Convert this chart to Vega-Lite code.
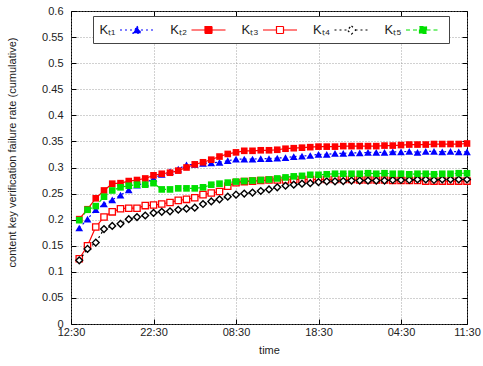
{
  "$schema": "https://vega.github.io/schema/vega-lite/v6.json",
  "width": 396,
  "height": 313,
  "autosize": "none",
  "padding": {"left": 71, "top": 11, "right": 16, "bottom": 42},
  "background": "white",
  "config": {
    "font": "Liberation Sans",
    "view": {"stroke": "#000000", "strokeWidth": 1},
    "axis": {"domain": false, "labelFont": "Liberation Sans", "titleFont": "Liberation Sans", "labelColor": "#222222", "titleColor": "#222222", "titleFontWeight": "normal", "labelFontSize": 11, "titleFontSize": 11, "tickColor": "#000000", "tickSize": -5, "tickWidth": 1}
  },
  "data": {"values": [
    {"s":"KT1","h":1,"v":0.184},{"s":"KT1","h":2,"v":0.201},{"s":"KT1","h":3,"v":0.219},{"s":"KT1","h":4,"v":0.230},{"s":"KT1","h":5,"v":0.238},{"s":"KT1","h":6,"v":0.247},{"s":"KT1","h":7,"v":0.257},{"s":"KT1","h":8,"v":0.266},{"s":"KT1","h":9,"v":0.270},{"s":"KT1","h":10,"v":0.279},
    {"s":"KT1","h":11,"v":0.287},{"s":"KT1","h":12,"v":0.292},{"s":"KT1","h":13,"v":0.297},{"s":"KT1","h":14,"v":0.305},{"s":"KT1","h":15,"v":0.306},{"s":"KT1","h":16,"v":0.308},{"s":"KT1","h":17,"v":0.309},{"s":"KT1","h":18,"v":0.310},{"s":"KT1","h":19,"v":0.313},{"s":"KT1","h":20,"v":0.316},
    {"s":"KT1","h":21,"v":0.316},{"s":"KT1","h":22,"v":0.316},{"s":"KT1","h":23,"v":0.317},{"s":"KT1","h":24,"v":0.317},{"s":"KT1","h":25,"v":0.318},{"s":"KT1","h":26,"v":0.319},{"s":"KT1","h":27,"v":0.321},{"s":"KT1","h":28,"v":0.322},{"s":"KT1","h":29,"v":0.323},{"s":"KT1","h":30,"v":0.325},
    {"s":"KT1","h":31,"v":0.325},{"s":"KT1","h":32,"v":0.327},{"s":"KT1","h":33,"v":0.327},{"s":"KT1","h":34,"v":0.328},{"s":"KT1","h":35,"v":0.328},{"s":"KT1","h":36,"v":0.329},{"s":"KT1","h":37,"v":0.329},{"s":"KT1","h":38,"v":0.329},{"s":"KT1","h":39,"v":0.330},{"s":"KT1","h":40,"v":0.330},
    {"s":"KT1","h":41,"v":0.331},{"s":"KT1","h":42,"v":0.329},{"s":"KT1","h":43,"v":0.331},{"s":"KT1","h":44,"v":0.331},{"s":"KT1","h":45,"v":0.330},{"s":"KT1","h":46,"v":0.331},{"s":"KT1","h":47,"v":0.330},{"s":"KT1","h":48,"v":0.330},

    {"s":"KT2","h":1,"v":0.201},{"s":"KT2","h":2,"v":0.220},{"s":"KT2","h":3,"v":0.241},{"s":"KT2","h":4,"v":0.256},{"s":"KT2","h":5,"v":0.269},{"s":"KT2","h":6,"v":0.270},{"s":"KT2","h":7,"v":0.274},{"s":"KT2","h":8,"v":0.276},{"s":"KT2","h":9,"v":0.279},{"s":"KT2","h":10,"v":0.285},
    {"s":"KT2","h":11,"v":0.288},{"s":"KT2","h":12,"v":0.290},{"s":"KT2","h":13,"v":0.294},{"s":"KT2","h":14,"v":0.300},{"s":"KT2","h":15,"v":0.306},{"s":"KT2","h":16,"v":0.310},{"s":"KT2","h":17,"v":0.315},{"s":"KT2","h":18,"v":0.321},{"s":"KT2","h":19,"v":0.326},{"s":"KT2","h":20,"v":0.329},
    {"s":"KT2","h":21,"v":0.332},{"s":"KT2","h":22,"v":0.332},{"s":"KT2","h":23,"v":0.333},{"s":"KT2","h":24,"v":0.333},{"s":"KT2","h":25,"v":0.334},{"s":"KT2","h":26,"v":0.336},{"s":"KT2","h":27,"v":0.337},{"s":"KT2","h":28,"v":0.338},{"s":"KT2","h":29,"v":0.339},{"s":"KT2","h":30,"v":0.340},
    {"s":"KT2","h":31,"v":0.340},{"s":"KT2","h":32,"v":0.340},{"s":"KT2","h":33,"v":0.341},{"s":"KT2","h":34,"v":0.341},{"s":"KT2","h":35,"v":0.341},{"s":"KT2","h":36,"v":0.341},{"s":"KT2","h":37,"v":0.341},{"s":"KT2","h":38,"v":0.342},{"s":"KT2","h":39,"v":0.342},{"s":"KT2","h":40,"v":0.343},
    {"s":"KT2","h":41,"v":0.344},{"s":"KT2","h":42,"v":0.344},{"s":"KT2","h":43,"v":0.344},{"s":"KT2","h":44,"v":0.345},{"s":"KT2","h":45,"v":0.345},{"s":"KT2","h":46,"v":0.345},{"s":"KT2","h":47,"v":0.345},{"s":"KT2","h":48,"v":0.346},

    {"s":"KT3","h":1,"v":0.125},{"s":"KT3","h":2,"v":0.150},{"s":"KT3","h":3,"v":0.186},{"s":"KT3","h":4,"v":0.205},{"s":"KT3","h":5,"v":0.215},{"s":"KT3","h":6,"v":0.221},{"s":"KT3","h":7,"v":0.222},{"s":"KT3","h":8,"v":0.222},{"s":"KT3","h":9,"v":0.227},{"s":"KT3","h":10,"v":0.228},
    {"s":"KT3","h":11,"v":0.230},{"s":"KT3","h":12,"v":0.233},{"s":"KT3","h":13,"v":0.237},{"s":"KT3","h":14,"v":0.239},{"s":"KT3","h":15,"v":0.242},{"s":"KT3","h":16,"v":0.248},{"s":"KT3","h":17,"v":0.251},{"s":"KT3","h":18,"v":0.254},{"s":"KT3","h":19,"v":0.264},{"s":"KT3","h":20,"v":0.271},
    {"s":"KT3","h":21,"v":0.273},{"s":"KT3","h":22,"v":0.274},{"s":"KT3","h":23,"v":0.275},{"s":"KT3","h":24,"v":0.276},{"s":"KT3","h":25,"v":0.276},{"s":"KT3","h":26,"v":0.276},{"s":"KT3","h":27,"v":0.277},{"s":"KT3","h":28,"v":0.277},{"s":"KT3","h":29,"v":0.277},{"s":"KT3","h":30,"v":0.277},
    {"s":"KT3","h":31,"v":0.277},{"s":"KT3","h":32,"v":0.277},{"s":"KT3","h":33,"v":0.277},{"s":"KT3","h":34,"v":0.277},{"s":"KT3","h":35,"v":0.276},{"s":"KT3","h":36,"v":0.276},{"s":"KT3","h":37,"v":0.276},{"s":"KT3","h":38,"v":0.276},{"s":"KT3","h":39,"v":0.275},{"s":"KT3","h":40,"v":0.275},
    {"s":"KT3","h":41,"v":0.275},{"s":"KT3","h":42,"v":0.275},{"s":"KT3","h":43,"v":0.274},{"s":"KT3","h":44,"v":0.274},{"s":"KT3","h":45,"v":0.274},{"s":"KT3","h":46,"v":0.274},{"s":"KT3","h":47,"v":0.274},{"s":"KT3","h":48,"v":0.274},

    {"s":"KT4","h":1,"v":0.122},{"s":"KT4","h":2,"v":0.144},{"s":"KT4","h":3,"v":0.156},{"s":"KT4","h":4,"v":0.182},{"s":"KT4","h":5,"v":0.188},{"s":"KT4","h":6,"v":0.192},{"s":"KT4","h":7,"v":0.201},{"s":"KT4","h":8,"v":0.205},{"s":"KT4","h":9,"v":0.208},{"s":"KT4","h":10,"v":0.213},
    {"s":"KT4","h":11,"v":0.215},{"s":"KT4","h":12,"v":0.216},{"s":"KT4","h":13,"v":0.219},{"s":"KT4","h":14,"v":0.221},{"s":"KT4","h":15,"v":0.223},{"s":"KT4","h":16,"v":0.230},{"s":"KT4","h":17,"v":0.235},{"s":"KT4","h":18,"v":0.239},{"s":"KT4","h":19,"v":0.244},{"s":"KT4","h":20,"v":0.248},
    {"s":"KT4","h":21,"v":0.250},{"s":"KT4","h":22,"v":0.252},{"s":"KT4","h":23,"v":0.255},{"s":"KT4","h":24,"v":0.258},{"s":"KT4","h":25,"v":0.262},{"s":"KT4","h":26,"v":0.265},{"s":"KT4","h":27,"v":0.267},{"s":"KT4","h":28,"v":0.269},{"s":"KT4","h":29,"v":0.270},{"s":"KT4","h":30,"v":0.272},
    {"s":"KT4","h":31,"v":0.2735},{"s":"KT4","h":32,"v":0.2735},{"s":"KT4","h":33,"v":0.274},{"s":"KT4","h":34,"v":0.275},{"s":"KT4","h":35,"v":0.275},{"s":"KT4","h":36,"v":0.275},{"s":"KT4","h":37,"v":0.275},{"s":"KT4","h":38,"v":0.275},{"s":"KT4","h":39,"v":0.276},{"s":"KT4","h":40,"v":0.276},
    {"s":"KT4","h":41,"v":0.276},{"s":"KT4","h":42,"v":0.277},{"s":"KT4","h":43,"v":0.277},{"s":"KT4","h":44,"v":0.276},{"s":"KT4","h":45,"v":0.277},{"s":"KT4","h":46,"v":0.277},{"s":"KT4","h":47,"v":0.277},{"s":"KT4","h":48,"v":0.277},

    {"s":"KT5","h":1,"v":0.199},{"s":"KT5","h":2,"v":0.219},{"s":"KT5","h":3,"v":0.226},{"s":"KT5","h":4,"v":0.244},{"s":"KT5","h":5,"v":0.256},{"s":"KT5","h":6,"v":0.262},{"s":"KT5","h":7,"v":0.265},{"s":"KT5","h":8,"v":0.267},{"s":"KT5","h":9,"v":0.267},{"s":"KT5","h":10,"v":0.270},
    {"s":"KT5","h":11,"v":0.258},{"s":"KT5","h":12,"v":0.258},{"s":"KT5","h":13,"v":0.260},{"s":"KT5","h":14,"v":0.260},{"s":"KT5","h":15,"v":0.260},{"s":"KT5","h":16,"v":0.262},{"s":"KT5","h":17,"v":0.267},{"s":"KT5","h":18,"v":0.269},{"s":"KT5","h":19,"v":0.271},{"s":"KT5","h":20,"v":0.273},
    {"s":"KT5","h":21,"v":0.274},{"s":"KT5","h":22,"v":0.275},{"s":"KT5","h":23,"v":0.276},{"s":"KT5","h":24,"v":0.277},{"s":"KT5","h":25,"v":0.279},{"s":"KT5","h":26,"v":0.281},{"s":"KT5","h":27,"v":0.283},{"s":"KT5","h":28,"v":0.284},{"s":"KT5","h":29,"v":0.286},{"s":"KT5","h":30,"v":0.286},
    {"s":"KT5","h":31,"v":0.287},{"s":"KT5","h":32,"v":0.288},{"s":"KT5","h":33,"v":0.288},{"s":"KT5","h":34,"v":0.288},{"s":"KT5","h":35,"v":0.288},{"s":"KT5","h":36,"v":0.289},{"s":"KT5","h":37,"v":0.288},{"s":"KT5","h":38,"v":0.289},{"s":"KT5","h":39,"v":0.288},{"s":"KT5","h":40,"v":0.288},
    {"s":"KT5","h":41,"v":0.287},{"s":"KT5","h":42,"v":0.288},{"s":"KT5","h":43,"v":0.288},{"s":"KT5","h":44,"v":0.287},{"s":"KT5","h":45,"v":0.288},{"s":"KT5","h":46,"v":0.288},{"s":"KT5","h":47,"v":0.289},{"s":"KT5","h":48,"v":0.289}
  ]},
  "layer": [
    {
      "mark": {"type": "point", "opacity": 0},
      "encoding": {
        "x": {"field": "h", "type": "quantitative", "scale": {"domain": [0, 48], "nice": false, "zero": false},
          "axis": {"orient": "bottom", "values": [0, 10, 20, 30, 40, 48], "labelExpr": "datum.value == 0 ? '12:30' : datum.value == 10 ? '22:30' : datum.value == 20 ? '08:30' : datum.value == 30 ? '18:30' : datum.value == 40 ? '04:30' : '11:30'",
            "title": "time", "titleY": 26, "titleBaseline": "middle", "labelPadding": 7, "labelFlush": false,
            "grid": true, "gridDash": [1, 2], "gridColor": "#8c8c8c", "gridWidth": 0.8}},
        "y": {"field": "v", "type": "quantitative", "scale": {"domain": [0, 0.6], "nice": false},
          "axis": {"orient": "left", "values": [0, 0.05, 0.1, 0.15, 0.2, 0.25, 0.3, 0.35, 0.4, 0.45, 0.5, 0.55, 0.6], "format": "~g",
            "title": "content key verification failure rate (cumulative)", "titleX": -59, "titleY": 141, "titleAngle": -90, "titleAlign": "center", "titleBaseline": "middle",
            "labelPadding": 13, "labelFlush": false,
            "grid": true, "gridDash": [1, 2], "gridColor": "#8c8c8c", "gridWidth": 0.8}}
      }
    },
    {
      "mark": {"type": "point", "opacity": 0},
      "encoding": {
        "x": {"field": "h", "type": "quantitative", "axis": {"orient": "top", "values": [0, 10, 20, 30, 40, 48], "labels": false, "title": null, "grid": false}},
        "y": {"field": "v", "type": "quantitative", "axis": {"orient": "right", "values": [0, 0.05, 0.1, 0.15, 0.2, 0.25, 0.3, 0.35, 0.4, 0.45, 0.5, 0.55, 0.6], "labels": false, "title": null, "grid": false}}
      }
    },
    {
      "transform": [{"filter": "datum.s == 'KT1'"}],
      "mark": {"type": "line", "color": "#0000ff", "strokeWidth": 1.2, "strokeDash": [2, 3], "point": {"shape": "triangle-up", "filled": true, "color": "#0000ff", "size": 60, "opacity": 1}},
      "encoding": {"x": {"field": "h", "type": "quantitative", "axis": null}, "y": {"field": "v", "type": "quantitative", "axis": null}}
    },
    {
      "transform": [{"filter": "datum.s == 'KT2'"}],
      "mark": {"type": "line", "color": "#ff0000", "strokeWidth": 1.2, "point": {"shape": "square", "filled": true, "color": "#ff0000", "size": 44, "opacity": 1}},
      "encoding": {"x": {"field": "h", "type": "quantitative", "axis": null}, "y": {"field": "v", "type": "quantitative", "axis": null}}
    },
    {
      "transform": [{"filter": "datum.s == 'KT3'"}],
      "mark": {"type": "line", "color": "#ff0000", "strokeWidth": 1.2, "point": {"shape": "square", "filled": false, "stroke": "#ff0000", "fill": "#ffffff", "fillOpacity": 1, "strokeWidth": 1.3, "size": 40, "opacity": 1}},
      "encoding": {"x": {"field": "h", "type": "quantitative", "axis": null}, "y": {"field": "v", "type": "quantitative", "axis": null}}
    },
    {
      "transform": [{"filter": "datum.s == 'KT4'"}],
      "mark": {"type": "line", "color": "#000000", "strokeWidth": 1.2, "strokeDash": [2, 3], "point": {"shape": "diamond", "filled": false, "stroke": "#000000", "fill": "#ffffff", "fillOpacity": 1, "strokeWidth": 1.4, "size": 45, "opacity": 1}},
      "encoding": {"x": {"field": "h", "type": "quantitative", "axis": null}, "y": {"field": "v", "type": "quantitative", "axis": null}}
    },
    {
      "transform": [{"filter": "datum.s == 'KT5'"}],
      "mark": {"type": "line", "color": "#00e000", "strokeWidth": 1.2, "strokeDash": [4, 3], "point": {"shape": "square", "filled": true, "color": "#00e000", "size": 44, "opacity": 1}},
      "encoding": {"x": {"field": "h", "type": "quantitative", "axis": null}, "y": {"field": "v", "type": "quantitative", "axis": null}}
    },
    {
      "mark": {"type": "point", "filled": false, "size": 0, "strokeWidth": 1.2, "opacity": 1},
      "encoding": {
        "x": {"field": "h", "type": "quantitative", "axis": null},
        "y": {"field": "v", "type": "quantitative", "axis": null},
        "shape": {"field": "s", "type": "nominal",
          "scale": {"domain": ["KT1", "KT2", "KT3", "KT4", "KT5"], "range": [
            "M-2.43,0H-0.57M0.57,0H2.43M0,-0.55L0.57,0.45L-0.57,0.45Z",
            "M-2.43,0H-0.5M0.5,0H2.43M-0.5,-0.5H0.5V0.5H-0.5Z",
            "M-2.43,0H-0.5M0.5,0H2.43M-0.5,-0.5H0.5V0.5H-0.5Z",
            "M-2.43,0H-0.57M0.57,0H2.43M0,-0.6L0.6,0L0,0.6L-0.6,0Z",
            "M-2.43,0H-0.5M0.5,0H2.43M-0.5,-0.5H0.5V0.5H-0.5Z"]},
          "legend": {"title": null, "orient": "none", "legendX": 22, "legendY": 5, "direction": "horizontal", "columns": 5, "symbolSize": 196, "symbolStrokeWidth": 1.2, "symbolOpacity": 1, "symbolOffset": 30, "labelAlign": "right", "labelOffset": -29.5, "labelFontSize": 13, "labelFont": "Liberation Sans", "labelColor": "#222222", "columnPadding": 12.5, "padding": 6, "strokeColor": "#444444", "fillColor": "#ffffff",
            "labelExpr": "datum.value == 'KT1' ? 'Kₜ₁' : datum.value == 'KT2' ? 'Kₜ₂' : datum.value == 'KT3' ? 'Kₜ₃' : datum.value == 'KT4' ? 'Kₜ₄' : 'Kₜ₅'"}},
        "stroke": {"field": "s", "type": "nominal",
          "scale": {"domain": ["KT1", "KT2", "KT3", "KT4", "KT5"], "range": ["#0000ff", "#ff0000", "#ff0000", "#000000", "#00e000"]},
          "legend": {"title": null, "orient": "none", "legendX": 22, "legendY": 5}},
        "strokeDash": {"field": "s", "type": "nominal",
          "scale": {"domain": ["KT1", "KT2", "KT3", "KT4", "KT5"], "range": [[2, 3], [1, 0], [1, 0], [2, 3], [4, 3]]},
          "legend": {"title": null, "orient": "none", "legendX": 22, "legendY": 5}},
        "fill": {"field": "s", "type": "nominal",
          "scale": {"domain": ["KT1", "KT2", "KT3", "KT4", "KT5"], "range": ["#0000ff", "#ff0000", "#ffffff", "#ffffff", "#00e000"]},
          "legend": {"title": null, "orient": "none", "legendX": 22, "legendY": 5}}
      }
    }
  ],
  "resolve": {"axis": {"x": "independent", "y": "independent"}}
}
